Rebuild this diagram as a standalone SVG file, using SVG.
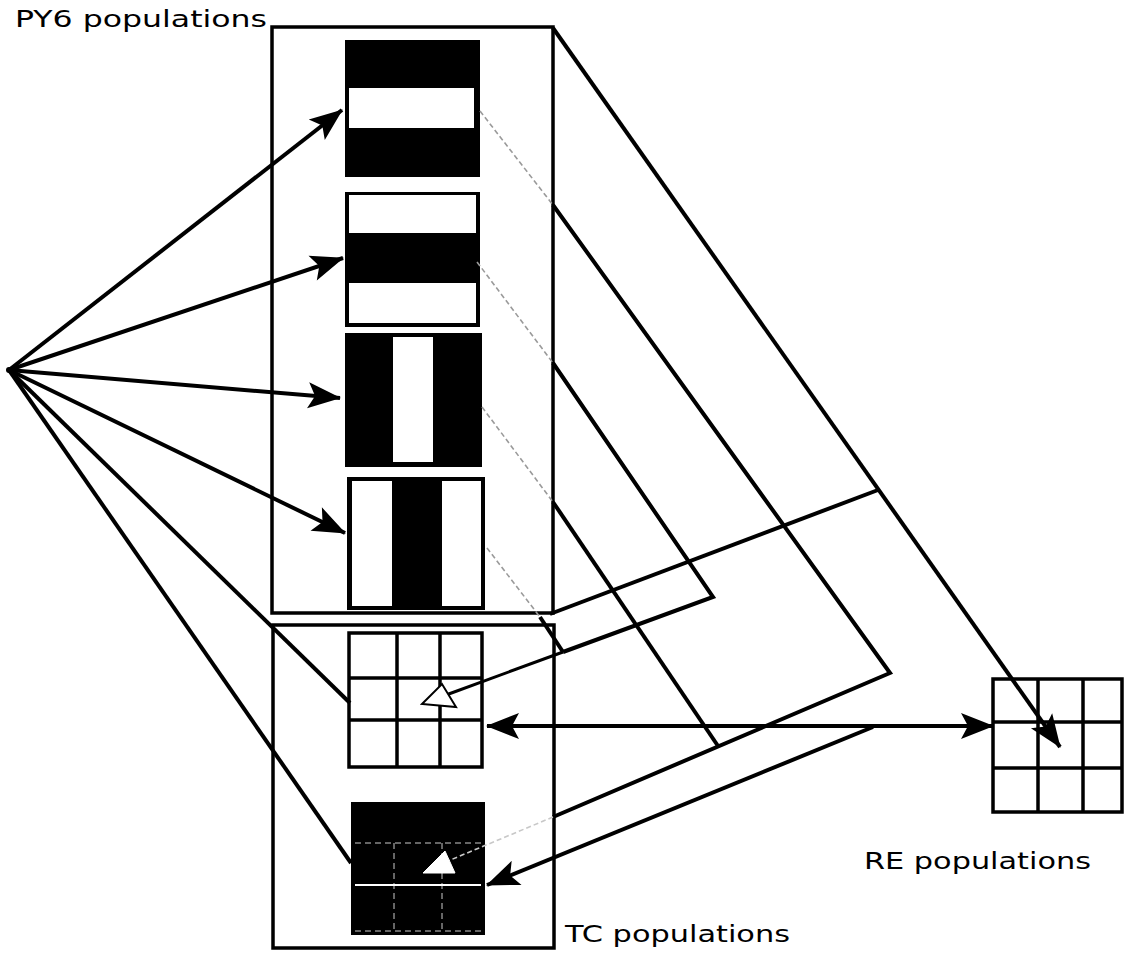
<svg xmlns="http://www.w3.org/2000/svg" width="1131" height="968" viewBox="0 0 1131 968">
<style>
.ln{fill:none;stroke:#000;stroke-width:4;stroke-linejoin:miter}
.thin{fill:none;stroke:#000;stroke-width:3}
.fa{fill:none;stroke:#9a9a9a;stroke-width:1.6;stroke-dasharray:5 3}
.box{fill:none;stroke:#000;stroke-width:3.5}
.gl{stroke:#000;stroke-width:3.5}
.wl{stroke:#fff;stroke-width:1;stroke-dasharray:6 4;opacity:0.8}
.lbl{font-family:"DejaVu Sans","Liberation Sans",sans-serif;font-size:23px;fill:#000}
</style>
<defs>
<marker id="ah" markerUnits="userSpaceOnUse" markerWidth="36" markerHeight="30" viewBox="0 0 36 30" refX="33" refY="15" orient="auto-start-reverse">
<path d="M1,2 L34,15 L1,28 L8,15 Z" fill="#000"/>
</marker>
</defs>
<rect width="1131" height="968" fill="#fff"/>

<g id="py6-box"><rect class="box" x="272" y="27" width="281" height="586"/></g>
<g id="tc-box"><rect class="box" x="273" y="625" width="281" height="323"/></g>

<g id="pattern1">
<rect x="345" y="40" width="135" height="137" fill="#000"/>
<rect x="349" y="88" width="125" height="40" fill="#fff"/>
</g>
<g id="pattern2">
<rect x="345" y="192" width="135" height="135" fill="#000"/>
<rect x="349" y="195" width="127" height="38" fill="#fff"/>
<rect x="349" y="283" width="127" height="40" fill="#fff"/>
</g>
<g id="pattern3">
<rect x="345" y="333" width="137" height="134" fill="#000"/>
<rect x="393" y="337" width="40" height="125" fill="#fff"/>
</g>
<g id="pattern4">
<rect x="347" y="477" width="138" height="133" fill="#000"/>
<rect x="352" y="481" width="40" height="125" fill="#fff"/>
<rect x="442" y="481" width="39" height="125" fill="#fff"/>
</g>

<g id="tc-grid1">
<rect x="349" y="633" width="133" height="134" fill="#fff" class="gl"/>
<line class="gl" x1="397" y1="633" x2="397" y2="767"/>
<line class="gl" x1="440" y1="633" x2="440" y2="767"/>
<line class="gl" x1="349" y1="678" x2="482" y2="678"/>
<line class="gl" x1="349" y1="720" x2="482" y2="720"/>
</g>
<g id="tc-grid2">
<rect x="351" y="802" width="134" height="133" fill="#000"/>
<line x1="355" y1="885" x2="481" y2="885" stroke="#fff" stroke-width="2"/>
<line class="wl" x1="355" y1="843" x2="481" y2="843"/>
<line class="wl" x1="394" y1="843" x2="394" y2="931"/>
<line class="wl" x1="442" y1="843" x2="442" y2="931"/>
<line class="wl" x1="355" y1="931" x2="481" y2="931"/>
</g>

<g id="re-grid">
<rect x="993" y="679" width="129" height="133" fill="#fff" class="gl"/>
<line class="gl" x1="1038" y1="679" x2="1038" y2="812"/>
<line class="gl" x1="1083" y1="679" x2="1083" y2="812"/>
<line class="gl" x1="993" y1="722" x2="1122" y2="722"/>
<line class="gl" x1="993" y1="768" x2="1122" y2="768"/>
</g>

<g id="source"><circle cx="9" cy="370" r="3" fill="#000"/></g>

<g id="connectors">
<line class="ln" x1="9" y1="370" x2="342" y2="110" marker-end="url(#ah)"/>
<line class="ln" x1="9" y1="370" x2="343" y2="258" marker-end="url(#ah)"/>
<line class="ln" x1="9" y1="370" x2="340" y2="398" marker-end="url(#ah)"/>
<line class="ln" x1="9" y1="370" x2="345" y2="533" marker-end="url(#ah)"/>
<line class="ln" x1="9" y1="370" x2="350" y2="703"/>
<line class="ln" x1="9" y1="370" x2="351" y2="863"/>

<line class="fa" x1="480" y1="111" x2="553" y2="205"/>
<line class="fa" x1="477" y1="262" x2="553" y2="363"/>
<line class="fa" x1="482" y1="407" x2="553" y2="502"/>
<line class="fa" x1="487" y1="548" x2="540" y2="617"/>

<line class="ln" x1="553" y1="28" x2="1060" y2="747" marker-end="url(#ah)"/>
<line class="ln" x1="550" y1="614" x2="878" y2="490"/>
<polyline class="ln" points="553,205 890,673 553,817"/>
<line class="fa" x1="553" y1="817" x2="448" y2="861" style="stroke:#c8c8c8"/>
<polygon points="423,873 445,851 455,873" fill="#fff" stroke="#fff" stroke-width="1"/>
<polyline class="ln" points="553,363 713,597 563,652"/>
<line class="thin" x1="563" y1="652" x2="446" y2="695"/>
<polygon points="422,704 442,684 456,707" fill="#fff" stroke="#000" stroke-width="2"/>
<line class="ln" x1="540" y1="617" x2="563" y2="652"/>
<line class="ln" x1="553" y1="502" x2="718" y2="746"/>
<line class="ln" x1="487" y1="726" x2="993" y2="726" marker-start="url(#ah)" marker-end="url(#ah)"/>
<line class="ln" x1="873" y1="727" x2="487" y2="885" marker-end="url(#ah)"/>
</g>

<g id="labels">
<text class="lbl" x="15" y="27" textLength="252" lengthAdjust="spacingAndGlyphs">PY6 populations</text>
<text class="lbl" x="565" y="942" textLength="225" lengthAdjust="spacingAndGlyphs">TC populations</text>
<text class="lbl" x="864" y="869" textLength="227" lengthAdjust="spacingAndGlyphs">RE populations</text>
</g>
</svg>
